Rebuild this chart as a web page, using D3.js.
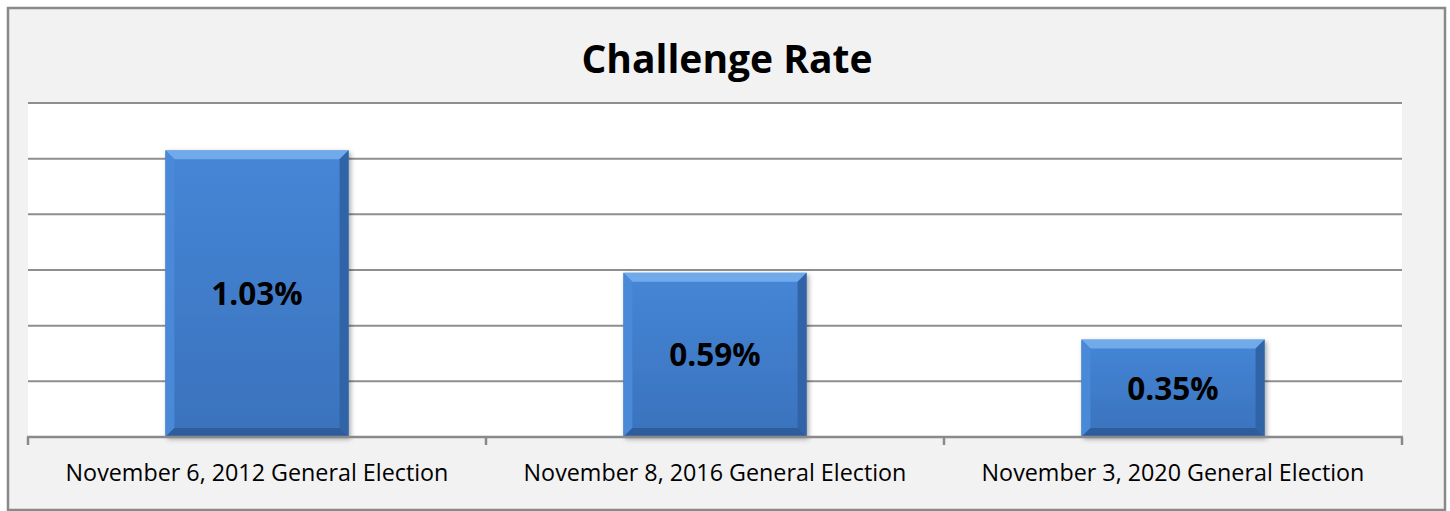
<!DOCTYPE html>
<html>
<head>
<meta charset="utf-8">
<script src="https://cdn.jsdelivr.net/npm/d3@7"></script>
<style>
  html, body { margin: 0; padding: 0; background: #ffffff; }
  svg { display: block; }
</style>
</head>
<body>
<div id="chart"></div>
<script>
// Data
const categories = [
    'November 6, 2012 General Election',
    'November 8, 2016 General Election',
    'November 3, 2020 General Election'
];
const rates = [1.03, 0.59, 0.35];
const yTicks = [0, 0.2, 0.4, 0.6, 0.8, 1.0, 1.2];
const title = 'Challenge Rate';

const W = 1450, H = 511;
const plot = { left: 28, right: 1402, top: 103, bottom: 437 };

const svg = d3.select('#chart')
    .append('svg')
    .attr('width', W)
    .attr('height', H);

const defs = svg.append('defs');

// bar face gradient
const grad = defs.append('linearGradient')
    .attr('id', 'barFace')
    .attr('x1', 0).attr('y1', 0).attr('x2', 0).attr('y2', 1);
grad.append('stop').attr('offset', '0%').attr('stop-color', '#4586d6');
grad.append('stop').attr('offset', '100%').attr('stop-color', '#3a72bd');

// soft shadow
const shadow = defs.append('filter')
    .attr('id', 'shadow')
    .attr('x', '-10%').attr('y', '-10%')
    .attr('width', '130%').attr('height', '130%');
shadow.append('feDropShadow')
    .attr('dx', 2).attr('dy', 2)
    .attr('stdDeviation', 2.5)
    .attr('flood-color', '#000')
    .attr('flood-opacity', 0.35);

// Chart background and border
svg.append('rect')
    .attr('x', 8).attr('y', 8)
    .attr('width', 1437).attr('height', 502)
    .attr('fill', '#f2f2f2')
    .attr('stroke', '#898989')
    .attr('stroke-width', 2.5);

// Plot area
svg.append('rect')
    .attr('x', plot.left).attr('y', plot.top)
    .attr('width', plot.right - plot.left)
    .attr('height', plot.bottom - plot.top)
    .attr('fill', '#ffffff');

// Scales
const x = d3.scaleBand()
    .domain(categories)
    .range([plot.left, plot.right])
    .paddingInner(0.6)
    .paddingOuter(0.3);

const y = d3.scaleLinear()
    .domain([0, 1.2])
    .range([plot.bottom, plot.top]);

// Gridlines
svg.append('g')
    .selectAll('line')
    .data(yTicks.slice(1))
    .enter()
    .append('line')
    .attr('x1', plot.left)
    .attr('x2', plot.right)
    .attr('y1', d => y(d))
    .attr('y2', d => y(d))
    .attr('stroke', '#8e8e8e')
    .attr('stroke-width', 2);

// Bars with bevel
const bev = 9;
const bars = svg.append('g')
    .selectAll('g')
    .data(rates)
    .enter()
    .append('g')
    .attr('transform', (d, i) => `translate(${x(categories[i])},${y(d)})`);

bars.append('rect')
    .attr('width', x.bandwidth())
    .attr('height', d => plot.bottom - y(d))
    .attr('fill', 'url(#barFace)')
    .attr('filter', 'url(#shadow)');

// top bevel
bars.append('path')
    .attr('d', () => {
        const w = x.bandwidth();
        return `M0,0 L${w},0 L${w - bev},${bev} L${bev},${bev} Z`;
    })
    .attr('fill', '#78b0ee')
    .attr('opacity', 0.85);

// left bevel
bars.append('path')
    .attr('d', d => {
        const h = plot.bottom - y(d);
        return `M0,0 L${bev},${bev} L${bev},${h - bev} L0,${h} Z`;
    })
    .attr('fill', '#4a89d8');

// right bevel
bars.append('path')
    .attr('d', d => {
        const w = x.bandwidth();
        const h = plot.bottom - y(d);
        return `M${w},0 L${w},${h} L${w - bev},${h - bev} L${w - bev},${bev} Z`;
    })
    .attr('fill', '#3164a7');

// bottom bevel
bars.append('path')
    .attr('d', d => {
        const w = x.bandwidth();
        const h = plot.bottom - y(d);
        return `M0,${h} L${bev},${h - bev} L${w - bev},${h - bev} L${w},${h} Z`;
    })
    .attr('fill', '#2e5d9c');

// Value labels
bars.append('text')
    .attr('x', x.bandwidth() / 2)
    .attr('y', d => (plot.bottom - y(d)) / 2)
    .attr('dy', '0.36em')
    .attr('text-anchor', 'middle')
    .attr('font-family', 'Open Sans, sans-serif')
    .attr('font-weight', 'bold')
    .attr('font-size', 31.5)
    .attr('fill', '#000')
    .text(d => d.toFixed(2) + '%');

// X axis
const xAxis = svg.append('g')
    .attr('transform', `translate(0,${plot.bottom})`);

xAxis.append('line')
    .attr('x1', plot.left - 1)
    .attr('x2', plot.right + 1)
    .attr('stroke', '#8a8a8a')
    .attr('stroke-width', 2.5);

const tickPos = [plot.left].concat(categories.map(c => x(c) + x.bandwidth() / 2 + x.step() / 2));
xAxis.selectAll('line.tick')
    .data(tickPos)
    .enter()
    .append('line')
    .attr('class', 'tick')
    .attr('x1', d => d).attr('x2', d => d)
    .attr('y1', 0).attr('y2', 8)
    .attr('stroke', '#8a8a8a')
    .attr('stroke-width', 2.5);

xAxis.selectAll('text')
    .data(categories)
    .enter()
    .append('text')
    .attr('x', d => x(d) + x.bandwidth() / 2)
    .attr('y', 44)
    .attr('text-anchor', 'middle')
    .attr('font-family', 'Open Sans, sans-serif')
    .attr('font-size', 23.3)
    .attr('fill', '#000')
    .text(d => d);

// Title
svg.append('text')
    .attr('x', (plot.left + plot.right) / 2 + 12)
    .attr('y', 73)
    .attr('text-anchor', 'middle')
    .attr('font-family', 'Open Sans, sans-serif')
    .attr('font-weight', 'bold')
    .attr('font-size', 39)
    .attr('fill', '#000')
    .text(title);
</script>
</body>
</html>
